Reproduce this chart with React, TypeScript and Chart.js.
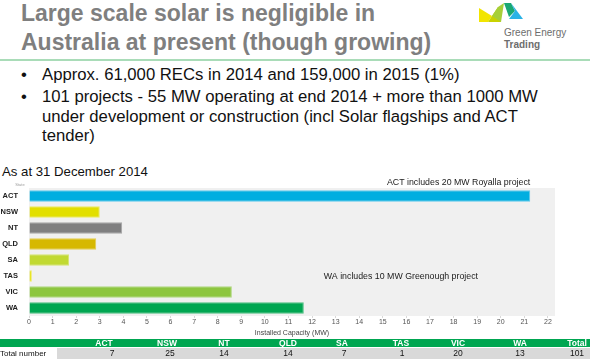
import React, { useEffect, useRef } from "react";
import { Chart, registerables } from "chart.js";

Chart.register(...registerables);

const states = ["ACT", "NSW", "NT", "QLD", "SA", "TAS", "VIC", "WA"];
const capacityMW = [21.25, 3.0, 3.95, 2.85, 1.7, 0.12, 8.6, 11.65];
const barColors = ["#00aee0", "#e2df00", "#7f7f80", "#d6b800", "#c1d932", "#e6e200", "#8dc63f", "#00a651"];
const barBorders = ["#5cc8ec", "#ecea60", "#a6a6a6", "#e2cc50", "#d4e470", "#efed60", "#b0d880", "#4cc080"];
const tableHeaders = ["ACT", "NSW", "NT", "QLD", "SA", "TAS", "VIC", "WA", "Total"];
const projectCounts = ["7", "25", "14", "14", "7", "1", "20", "13", "101"];
const headerCenters = [104, 167, 224, 288, 342, 401, 458, 520, 577];
const valueCenters = [112, 170, 224, 288, 344, 402, 458, 520, 577];
const bullets = [
  ["Approx. 61,000 RECs in 2014 and 159,000 in 2015 (1%)"],
  ["101 projects - 55 MW operating at end 2014 + more than 1000 MW", "under development or construction (incl Solar flagships and ACT", "tender)"],
];

const FONT = "'Liberation Sans', Arial, sans-serif";

function SolarChart() {
  const ref = useRef<HTMLCanvasElement | null>(null);
  useEffect(() => {
    if (!ref.current) return;
    const bgPlugin = {
      id: "bgAndNotes",
      beforeDraw(chart: any) {
        const { ctx, chartArea } = chart;
        ctx.save();
        ctx.fillStyle = "#f0f0f0";
        ctx.fillRect(chartArea.left, chartArea.top, chartArea.right - chartArea.left, chartArea.bottom - chartArea.top);
        ctx.restore();
      },
      afterDraw(chart: any) {
        const { ctx, chartArea, scales } = chart;
        const x = scales.x;
        const y = scales.y;
        ctx.save();
        ctx.fillStyle = "#9a9a9a";
        ctx.font = `4px ${FONT}`;
        ctx.textAlign = "center";
        ctx.textBaseline = "bottom";
        ctx.fillText("State", chartArea.left - 9, chartArea.top - 1);
        ctx.fillStyle = "#1a1a1a";
        ctx.font = `8.8px ${FONT}`;
        ctx.textBaseline = "middle";
        ctx.textAlign = "right";
        ctx.fillText("ACT includes 20 MW Royalla project", x.getPixelForValue(capacityMW[0]), y.getPixelForValue(0) - 13);
        ctx.textAlign = "left";
        ctx.fillText("WA includes 10 MW Greenough project", x.getPixelForValue(12.5), y.getPixelForValue(5) + 1);
        ctx.restore();
      },
    };
    const chart = new Chart(ref.current, {
      type: "bar",
      data: {
        labels: states,
        datasets: [
          {
            data: capacityMW,
            backgroundColor: barColors,
            borderColor: barBorders,
            borderWidth: 1,
            borderSkipped: "start",
            barPercentage: 0.72,
            categoryPercentage: 1,
          },
        ],
      },
      options: {
        indexAxis: "y",
        animation: false,
        responsive: false,
        devicePixelRatio: 1,
        layout: { padding: { top: 12, right: 15, left: 0, bottom: 0 } },
        plugins: { legend: { display: false }, tooltip: { enabled: false } },
        scales: {
          x: {
            min: 0,
            max: 22.3,
            afterBuildTicks(scale: any) {
              const t = [];
              for (let i = 0; i <= 22; i++) t.push({ value: i });
              scale.ticks = t;
            },
            afterFit(scale: any) {
              scale.height = 24;
            },
            border: { display: false },
            grid: { drawOnChartArea: false, tickLength: 2, color: "#d8d8d8" },
            ticks: { padding: 0, color: "#555", font: { family: FONT, size: 7 }, maxRotation: 0, autoSkip: false },
            title: { display: true, text: "Installed Capacity (MW)", color: "#444", font: { family: FONT, size: 7 }, padding: { top: 0, bottom: 3 } },
          },
          y: {
            afterFit(scale: any) {
              scale.width = 29;
            },
            border: { display: false },
            grid: { display: false },
            ticks: { padding: 3, color: "#222", font: { family: FONT, size: 7.5, weight: "bold" } },
          },
        },
      },
      plugins: [bgPlugin],
    } as any);
    return () => chart.destroy();
  }, []);
  return <canvas ref={ref} width={570} height={164} style={{ position: "absolute", left: 0, top: 176, width: 570, height: 164 }} />;
}

function Logo() {
  return (
    <svg width={50} height={26} viewBox="0 0 50 26" style={{ position: "absolute", left: 477, top: -1 }}>
      <polygon points="2,9 15,17 11,23 2,23" fill="#f2e500" />
      <polygon points="11,23 15,17 21,8 24,23" fill="#c9d200" />
      <polygon points="15,17 21,8 27,4 24,23" fill="#a6cf38" />
      <polygon points="27,4 34,4 38,12 32,18" fill="#1aa873" />
      <polygon points="34,4 46,20 32,20 38,12" fill="#2ab2e5" />
    </svg>
  );
}

export default function App() {
  return (
    <div style={{ position: "absolute", left: 0, top: 0, width: 590, height: 363, overflow: "hidden", background: "#fff", fontFamily: FONT }}>
      <div style={{ position: "absolute", left: 21, top: -1, fontSize: 23, fontWeight: "bold", color: "#7f7f7f", lineHeight: "29px", whiteSpace: "nowrap" }}>
        <div>Large scale solar is negligible in</div>
        <div>Australia at present (though growing)</div>
      </div>
      <Logo />
      <div style={{ position: "absolute", left: 504, top: 27, fontSize: 10, color: "#6d6d6d", lineHeight: "12px", whiteSpace: "nowrap" }}>
        <div>Green Energy</div>
        <div style={{ fontWeight: "bold" }}>Trading</div>
      </div>
      <div style={{ position: "absolute", left: 0, top: 59, width: 590, height: 2, background: "#a9dcb8" }} />
      <div style={{ position: "absolute", left: 0, top: 65, fontSize: 16.7, color: "#111", lineHeight: "19.5px", whiteSpace: "nowrap" }}>
        {bullets.map((lines, i) => (
          <div key={i} style={{ position: "relative", paddingLeft: 42, marginBottom: 2.5 }}>
            <span style={{ position: "absolute", left: 21 }}>•</span>
            {lines.map((l, j) => (
              <div key={j}>{l}</div>
            ))}
          </div>
        ))}
      </div>
      <div style={{ position: "absolute", left: 2, top: 164, fontSize: 13.2, color: "#111", whiteSpace: "nowrap" }}>As at 31 December 2014</div>
      <SolarChart />
      <div style={{ position: "absolute", left: 0, top: 339, width: 590, height: 8, background: "#00a651" }} />
      <div style={{ position: "absolute", left: 57, top: 348, width: 533, height: 11, background: "#d9d9d9" }} />
      <div style={{ position: "absolute", left: 0, top: 348, fontSize: 8, lineHeight: "11px", color: "#111", whiteSpace: "nowrap" }}>Total number</div>
      {tableHeaders.map((h, i) => (
        <div key={h} style={{ position: "absolute", left: headerCenters[i], top: 337.5, transform: "translateX(-50%)", fontSize: 8.5, lineHeight: "10px", fontWeight: "bold", color: "#fff", whiteSpace: "nowrap" }}>{h}</div>
      ))}
      {projectCounts.map((v, i) => (
        <div key={i} style={{ position: "absolute", left: valueCenters[i], top: 348, transform: "translateX(-50%)", fontSize: 8.5, lineHeight: "11px", color: "#111", whiteSpace: "nowrap" }}>{v}</div>
      ))}
    </div>
  );
}
